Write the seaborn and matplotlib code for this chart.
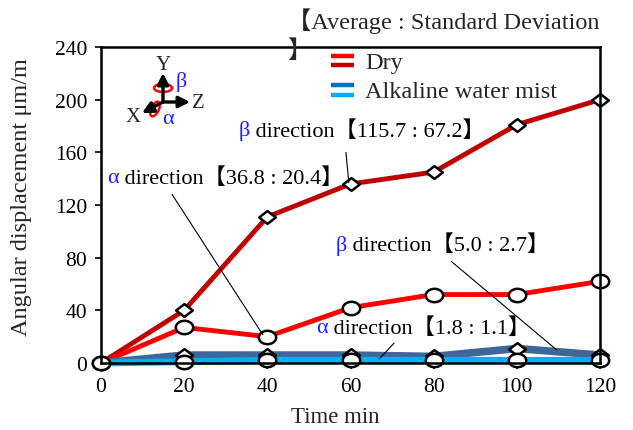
import matplotlib
matplotlib.use("Agg")
import matplotlib.pyplot as plt
import seaborn as sns
import numpy as np
from matplotlib.lines import Line2D
from matplotlib.legend_handler import HandlerBase
from matplotlib.patches import Ellipse
from matplotlib.path import Path
from matplotlib.text import Annotation

# ---------------- data ----------------
time_min = [0, 20, 40, 60, 80, 100, 120]
dry_beta = [0, 40, 111, 136, 145, 181, 200]
dry_alpha = [0, 27, 20, 42, 52, 52, 62]
alk_beta = [0, 6, 6, 6, 5, 11, 6]
alk_alpha = [0, 1, 2, 2, 2, 2, 2]

legend_labels = ["Dry", "Alkaline water mist"]
x_ticks = [0, 20, 40, 60, 80, 100, 120]
y_ticks = [0, 40, 80, 120, 160, 200, 240]

ann_beta_dry = ("β", " direction【115.7 : 67.2】")
ann_alpha_dry = ("α", " direction【36.8 : 20.4】")
ann_beta_alk = ("β", " direction【5.0 : 2.7】")
ann_alpha_alk = ("α", " direction【1.8 : 1.1】")
header_text = "【Average : Standard Deviation"
header_close = "】"

# ---------------- style ----------------
sns.set_theme(style="white")
FAM = ["Liberation Serif", "Noto Sans CJK JP", "DejaVu Sans"]
plt.rcParams["font.family"] = FAM
FS_TICK = 15.5
FS_ANN = 16
FS_LAB = 16.5
FS_LEG = 17.5

W, H = 633, 431
AX_L, AX_R, AX_T, AX_B = 101, 600, 48, 364
fig = plt.figure(figsize=(W / 100, H / 100), dpi=100)
ax = fig.add_axes([AX_L / W, 1 - AX_B / H, (AX_R - AX_L) / W,
                   (AX_B - AX_T) / H])

RED = "#FF0000"
DRED = "#C00000"
SBLUE = "#3D6699"
CYAN = "#00B0F0"
LBLUE = "#0070C0"

# elliptical circle and flattened diamond marker shapes
th = np.linspace(0, 2 * np.pi, 41)
ELL = Path(np.column_stack([1.3 * np.cos(th), np.sin(th)]), closed=True)
DIA = Path([(1.3, 0), (0, 1), (-1.3, 0), (0, -1), (1.3, 0)], closed=True)

mk_common = dict(markerfacecolor="white", markeredgecolor="black",
                 markeredgewidth=1.8, clip_on=False)

sns.lineplot(x=time_min, y=dry_beta, ax=ax, color=DRED, lw=3.5,
             marker=DIA, markersize=12, legend=False, zorder=3, **mk_common)
sns.lineplot(x=time_min, y=dry_alpha, ax=ax, color=RED, lw=3.5,
             marker=ELL, markersize=12.5, legend=False, zorder=3, **mk_common)
sns.lineplot(x=time_min, y=alk_beta, ax=ax, color=SBLUE, lw=5.5,
             marker=DIA, markersize=12, legend=False, zorder=4, **mk_common)
sns.lineplot(x=time_min, y=alk_alpha, ax=ax, color=CYAN, lw=5,
             marker=ELL, markersize=12.5, legend=False, zorder=5, **mk_common)

ax.set_xlim(0, 120)
ax.set_ylim(0, 240)
ax.set_xticks(x_ticks)
ax.set_yticks(y_ticks)
ax.tick_params(axis="both", direction="out", length=4, width=1.2,
               labelsize=FS_TICK, pad=6, colors="black", left=True,
               bottom=True)
for s in ax.spines.values():
    s.set_color("black")
    s.set_linewidth(1.8)
    s.set_zorder(6)

axw, axh = AX_R - AX_L, AX_B - AX_T
ax.set_xlabel("Time min", fontsize=FS_LAB)
ax.set_ylabel("Angular displacement μm/m", fontsize=FS_LAB + 1)
ax.yaxis.set_label_coords((22 - AX_L) / axw, (AX_B - 197.5) / axh)
ax.yaxis.label.set_verticalalignment("center")
ax.xaxis.set_label_coords((335 - AX_L) / axw, (AX_B - 418) / axh)
ax.xaxis.label.set_verticalalignment("center")


# ---------------- annotations ----------------
def label(x, y, parts):
    g, rest = parts
    t = ax.text(x, y, g, color="#1F1FFF", fontsize=FS_ANN, ha="left",
                va="center", zorder=7)
    ax.annotate(rest, xy=(1, 0.5), xycoords=t, xytext=(0, 0),
                textcoords="offset points", ha="left", va="center",
                fontsize=FS_ANN, color="black", zorder=7)


def leader(p0, p1):
    ax.annotate("", xy=p1, xytext=p0, xycoords="data", textcoords="data",
                arrowprops=dict(arrowstyle="-", lw=0.8, color="black",
                                shrinkA=0, shrinkB=0), zorder=7)


label(33.1, 176.8, ann_beta_dry)
leader((58.9, 160.0), (59.6, 137.0))
label(1.45, 141.0, ann_alpha_dry)
leader((17.1, 128.0), (38.9, 21.5))
label(56.5, 90.0, ann_beta_alk)
leader((84.3, 77.0), (109.6, 9.9))
label(51.7, 26.7, ann_alpha_alk)
leader((70.5, 15.2), (66.9, 3.0))


# ---------------- legend ----------------
class DoubleLine(HandlerBase):
    def create_artists(self, legend, orig_handle, xdescent, ydescent,
                       width, height, fontsize, trans):
        a, b = orig_handle
        y0 = -ydescent
        l1 = Line2D([-xdescent, width - xdescent], [y0 + height * 0.72] * 2,
                    color=a.get_color(), lw=3.2, transform=trans,
                    solid_capstyle="butt")
        l2 = Line2D([-xdescent, width - xdescent], [y0 + height * 0.16] * 2,
                    color=b.get_color(), lw=3.2, transform=trans,
                    solid_capstyle="butt")
        return [l1, l2]


h_dry = (Line2D([], [], color=RED), Line2D([], [], color=DRED))
h_alk = (Line2D([], [], color=LBLUE), Line2D([], [], color=CYAN))
fig.legend([h_dry, h_alk], legend_labels, handler_map={tuple: DoubleLine()},
           loc="upper left", bbox_to_anchor=(331 / W, 1 - 52 / H),
           bbox_transform=fig.transFigure, frameon=False, fontsize=FS_LEG,
           borderaxespad=0, borderpad=0, handlelength=0.95,
           handletextpad=0.45, labelspacing=0.3)

# header
fig.text(287 / W, 1 - 21 / H, header_text, fontsize=FS_LEG, ha="left",
         va="center", family=FAM)
fig.text(287 / W, 1 - 52 / H, header_close, fontsize=FS_LEG, ha="left",
         va="center", family=FAM)


# ---------------- axis icon ----------------
def F(px, py):
    return (px / W, 1 - py / H)


ox, oy = 163, 103
arr = dict(arrowstyle="-|>,head_length=0.55,head_width=0.28", lw=2.4,
           color="black", shrinkA=0, shrinkB=0)
for tip in [(163, 74), (190, 103), (142, 114)]:
    fig.add_artist(Annotation(
        "", xy=F(*tip), xytext=F(ox, oy), xycoords="figure fraction",
        textcoords="figure fraction", arrowprops=arr))

fig.add_artist(Ellipse(F(163, 89), 18 / W, 8 / H, fill=False, ec="red",
                       lw=1.8, transform=fig.transFigure))
fig.add_artist(Ellipse(F(155, 110), 8 / W, 15 / H, angle=-15, fill=False,
                       ec="red", lw=1.8, transform=fig.transFigure))
fig.text(*F(163, 66), "Y", fontsize=15, ha="center", va="center")
fig.text(*F(198, 104), "Z", fontsize=15, ha="center", va="center")
fig.text(*F(133, 117), "X", fontsize=15, ha="center", va="center")
fig.text(*F(181, 82), "β", fontsize=16, ha="center", va="center",
         color="#1F1FFF")
fig.text(*F(168, 120), "α", fontsize=16, ha="center", va="center",
         color="#1F1FFF")

fig.savefig("out.png", dpi=100, facecolor="white")
